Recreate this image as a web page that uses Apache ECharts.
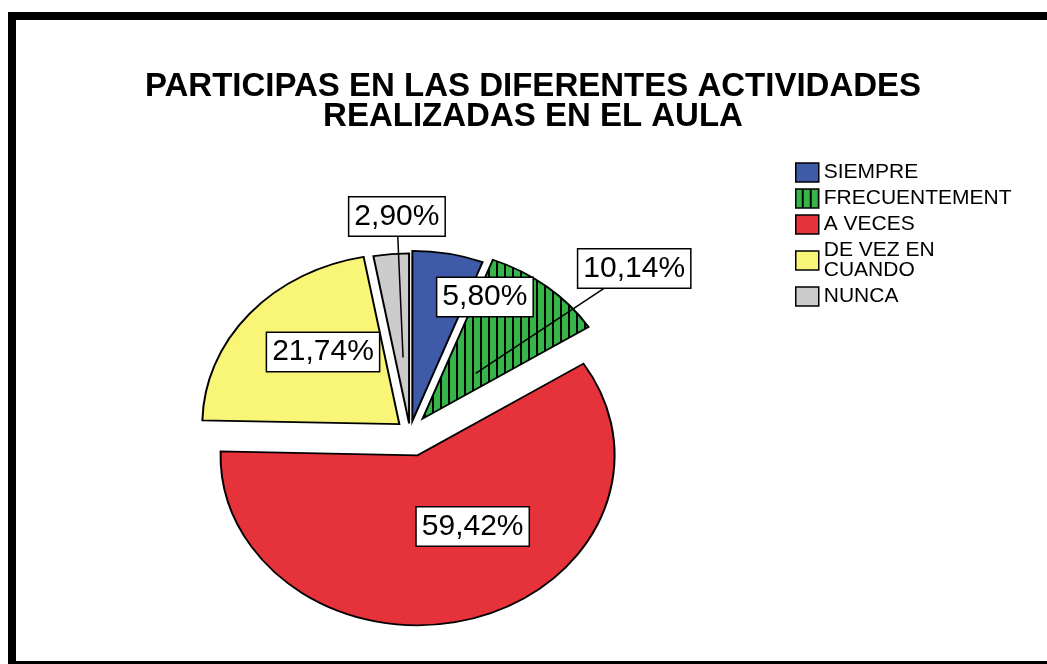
<!DOCTYPE html>
<html>
<head>
<meta charset="utf-8">
<script src="https://cdn.jsdelivr.net/npm/echarts@6/dist/echarts.min.js"></script>
<style>
html,body{margin:0;padding:0;background:#fff;}
#chart{width:1047px;height:664px;}
</style>
</head>
<body>
<div id="chart"></div>
<script>
// ---- data ----
const categories = ['SIEMPRE', 'FRECUENTEMENTE', 'A VECES', 'DE VEZ EN CUANDO', 'NUNCA'];
const values = [5.80, 10.14, 59.42, 21.74, 2.90];
const titleLines = ['PARTICIPAS EN LAS DIFERENTES ACTIVIDADES', 'REALIZADAS EN EL AULA'];

// ---- style / layout ----
const colors = ['#3f5aa8', '#35b54a', '#e5323b', '#f9f677', '#cccccc'];
const CX = 410, CY = 432, R = 197, SY = 0.863;
const explode = [13, 20, 28, 14, 10];
// label placement: [angle clockwise from top (deg), radius fraction]
const labelPlace = [[25.6, 0.88], [49.8, 1.49], [150.2, 0.64], [316.8, 0.645], [357, 1.27]];
const leaderPlace = [null, [44, 0.48], null, null, [355.4, 0.44]];

function stripePattern(base) {
  const c = document.createElement('canvas');
  c.width = 8; c.height = 8;
  const g = c.getContext('2d');
  g.fillStyle = base; g.fillRect(0, 0, 8, 8);
  g.fillStyle = '#000'; g.fillRect(6, 0, 2, 8);
  return { image: c, repeat: 'repeat' };
}
const fills = colors.map((c, i) => i === 1 ? stripePattern(c) : c);

const total = values.reduce((a, b) => a + b, 0);
const fmt = v => v.toFixed(2).replace('.', ',') + '%';
const rad = d => d * Math.PI / 180;
function pt(angleDeg, frac) {
  return [CX + R * frac * Math.sin(rad(angleDeg)), CY - R * frac * Math.cos(rad(angleDeg)) * SY];
}

const series = categories.map((name, i) => {
  const start = values.slice(0, i).reduce((a, b) => a + b, 0) / total * 360;
  const end = start + values[i] / total * 360;
  const mid = (start + end) / 2;
  return {
    type: 'custom',
    name: name,
    coordinateSystem: 'none',
    data: [values[i]],
    itemStyle: { color: fills[i], borderColor: '#000', borderWidth: 2 },
    renderItem: function (params, api) {
      const v = api.value(0);
      const dx = explode[i] * Math.sin(rad(mid));
      const dy = -explode[i] * Math.cos(rad(mid));
      const children = [{
        type: 'group',
        x: CX, y: CY, scaleY: SY,
        children: [{
          type: 'sector',
          shape: { cx: dx, cy: dy, r0: 0, r: R,
                   startAngle: rad(start - 90), endAngle: rad(end - 90), clockwise: true },
          style: { fill: fills[i], stroke: '#000', lineWidth: 2, strokeNoScale: true }
        }]
      }];
      const lp = pt(labelPlace[i][0], labelPlace[i][1]);
      if (leaderPlace[i]) {
        const inner = pt(leaderPlace[i][0], leaderPlace[i][1]);
        children.push({
          type: 'line', z2: 5,
          shape: { x1: inner[0], y1: inner[1], x2: lp[0], y2: lp[1] },
          style: { stroke: '#000', lineWidth: 1.5 }
        });
      }
      children.push({
        type: 'text', z2: 10,
        x: lp[0], y: lp[1],
        style: {
          text: fmt(v),
          fontFamily: 'Liberation Sans, Arial, sans-serif',
          fontSize: 30, lineHeight: 34,
          fill: '#000',
          align: 'center', verticalAlign: 'middle',
          backgroundColor: '#fff', borderColor: '#000', borderWidth: 1.5,
          padding: [2, 5]
        }
      });
      return { type: 'group', children: children };
    }
  };
});

const chart = echarts.init(document.getElementById('chart'), null, { renderer: 'canvas' });
chart.setOption({
  animation: false,
  backgroundColor: '#fff',
  title: {
    text: titleLines.join('\n'),
    left: 528, top: 67, textAlign: 'center',
    textStyle: { fontFamily: 'Liberation Sans, Arial, sans-serif', fontSize: 33, fontWeight: 'bold',
                 color: '#000', lineHeight: 30 }
  },
  legend: {
    orient: 'vertical', left: 790, top: 157,
    itemWidth: 23, itemHeight: 19, itemGap: 5, icon: 'rect',
    itemStyle: { borderColor: '#000', borderWidth: 1.5 },
    formatter: n => n === 'DE VEZ EN CUANDO' ? 'DE VEZ EN\nCUANDO' : n,
    textStyle: { fontFamily: 'Liberation Sans, Arial, sans-serif', fontSize: 21, color: '#000',
                 lineHeight: 20, width: 200, overflow: 'truncate', ellipsis: '' },
    data: categories
  },
  graphic: [{
    type: 'rect', silent: true,
    shape: { x: 12, y: 16, width: 1100, height: 649 },
    style: { fill: 'none', stroke: '#000', lineWidth: 8 }
  }],
  series: series
});
</script>
</body>
</html>
